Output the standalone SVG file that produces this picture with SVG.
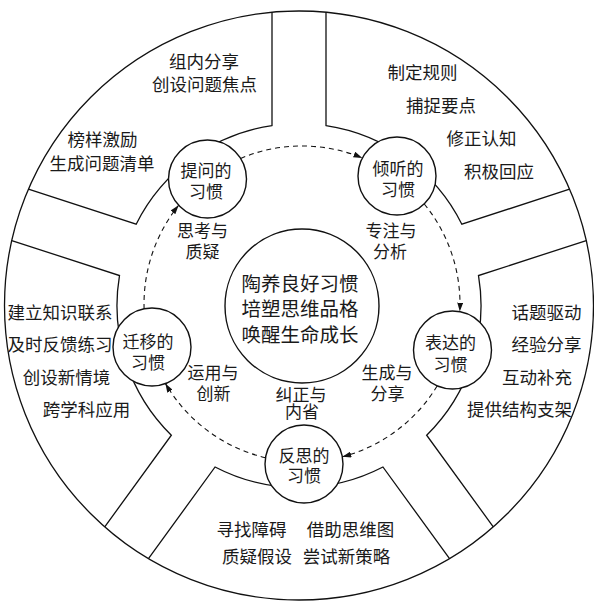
<svg xmlns="http://www.w3.org/2000/svg" width="594" height="606" viewBox="0 0 594 606">
<style>
.ln{fill:none;stroke:#111;stroke-width:1.3}
.nd{fill:#fff;stroke:#111;stroke-width:1.4}
.ds{fill:none;stroke:#111;stroke-width:1.1;stroke-dasharray:5 4}
text{font-family:"Noto Sans CJK SC","Noto Sans",sans-serif;fill:#1a1a1a;text-anchor:middle}
.t{font-size:17.5px}
.h{font-size:17px}
.c{font-size:19.5px}
</style>
<defs>
<marker id="ah" markerWidth="9" markerHeight="6" refX="9" refY="3" orient="auto" markerUnits="userSpaceOnUse"><path d="M0,0 L9,3 L0,6 Z" fill="#111"/></marker>
</defs>
<rect width="594" height="606" fill="#fff"/>
<g id="ring">
<circle class="ln" cx="299" cy="305.5" r="294.5"/>
<path id="sector-tiwen" class="ln" d="M28.43,189.2 L136.17,224.2 A182,182 0 0 1 272,125.52 L272,12.24"/>
<path id="sector-qingting" class="ln" d="M326,12.24 L326,125.52 A182,182 0 0 1 461.83,224.2 L569.57,189.2"/>
<path id="sector-biaoda" class="ln" d="M586.25,240.56 L478.52,275.57 A182,182 0 0 1 426.67,435.21 L493.26,526.84"/>
<path id="sector-fansi" class="ln" d="M449.54,558.62 L382.93,466.99 A182,182 0 0 1 215.07,466.99 L148.46,558.62"/>
<path id="sector-qianyi" class="ln" d="M104.74,526.84 L171.33,435.21 A182,182 0 0 1 119.48,275.57 L11.75,240.56"/>
</g>
<g id="center">
<circle class="nd" cx="302" cy="306" r="77"/>
<text class="c" x="300" y="290.5"><tspan x="300">陶养良好习惯</tspan><tspan x="300" dy="25.5">培塑思维品格</tspan><tspan x="300" dy="26">唤醒生命成长</tspan></text>
</g>
<g id="node-tiwen">
<circle class="nd" cx="207.5" cy="179" r="39"/>
<text class="h" y="176.5"><tspan x="206">提问的</tspan><tspan x="206" dy="21.5">习惯</tspan></text>
</g>
<g id="node-qingting">
<circle class="nd" cx="397" cy="176" r="39"/>
<text class="h" y="174.5"><tspan x="398">倾听的</tspan><tspan x="398" dy="21.5">习惯</tspan></text>
</g>
<g id="node-biaoda">
<circle class="nd" cx="452.5" cy="350" r="39"/>
<text class="h" y="349"><tspan x="450.5">表达的</tspan><tspan x="450.5" dy="21.5">习惯</tspan></text>
</g>
<g id="node-fansi">
<circle class="nd" cx="304" cy="464" r="39"/>
<text class="h" y="462"><tspan x="304">反思的</tspan><tspan x="304" dy="20">习惯</tspan></text>
</g>
<g id="node-qianyi">
<circle class="nd" cx="152" cy="347" r="39"/>
<text class="h" y="348"><tspan x="148">迁移的</tspan><tspan x="148" dy="21">习惯</tspan></text>
</g>
<g id="connectors">
<path class="ds" marker-end="url(#ah)" d="M240.6,158.4 A158,158 0 0 1 362.4,158"/>
<path class="ds" marker-end="url(#ah)" d="M424.3,204 A158,158 0 0 1 459.8,311.6"/>
<path class="ds" marker-end="url(#ah)" d="M437.1,386 A158,158 0 0 1 342.3,456.8"/>
<path class="ds" marker-end="url(#ah)" d="M265.5,457.7 A158,158 0 0 1 165.4,383.4"/>
<path class="ds" marker-end="url(#ah)" d="M144.1,309 A158,158 0 0 1 178.6,205.3"/>
</g>
<g id="edge-labels">
<text class="h" y="237"><tspan x="202.5">思考与</tspan><tspan x="202.5" dy="21">质疑</tspan></text>
<text class="h" y="237"><tspan x="391">专注与</tspan><tspan x="390" dy="21">分析</tspan></text>
<text class="h" y="379"><tspan x="387">生成与</tspan><tspan x="387.5" dy="21">分享</tspan></text>
<text class="h" y="401"><tspan x="301">纠正与</tspan><tspan x="302" dy="17">内省</tspan></text>
<text class="h" y="379"><tspan x="213">运用与</tspan><tspan x="213.5" dy="21">创新</tspan></text>
</g>
<g id="sector-texts">
<text class="t" y="68"><tspan x="204">组内分享</tspan><tspan x="204.5" dy="23">创设问题焦点</tspan></text>
<text class="t" y="146"><tspan x="102.5">榜样激励</tspan><tspan x="102" dy="23.5">生成问题清单</tspan></text>
<text class="t" x="422.5" y="79">制定规则</text>
<text class="t" x="441" y="112">捕捉要点</text>
<text class="t" x="481.5" y="145">修正认知</text>
<text class="t" x="499" y="178">积极回应</text>
<text class="t" x="546.5" y="319">话题驱动</text>
<text class="t" x="546.5" y="351">经验分享</text>
<text class="t" x="537" y="384">互动补充</text>
<text class="t" x="519.5" y="416">提供结构支架</text>
<text class="t" x="60" y="319">建立知识联系</text>
<text class="t" x="60" y="351">及时反馈练习</text>
<text class="t" x="66.5" y="384">创设新情境</text>
<text class="t" x="86.5" y="416">跨学科应用</text>
<text class="t" y="536"><tspan x="251.5">寻找障碍</tspan><tspan x="257" dy="27">质疑假设</tspan></text>
<text class="t" y="536"><tspan x="350.5">借助思维图</tspan><tspan x="346.5" dy="27">尝试新策略</tspan></text>
</g>
</svg>
